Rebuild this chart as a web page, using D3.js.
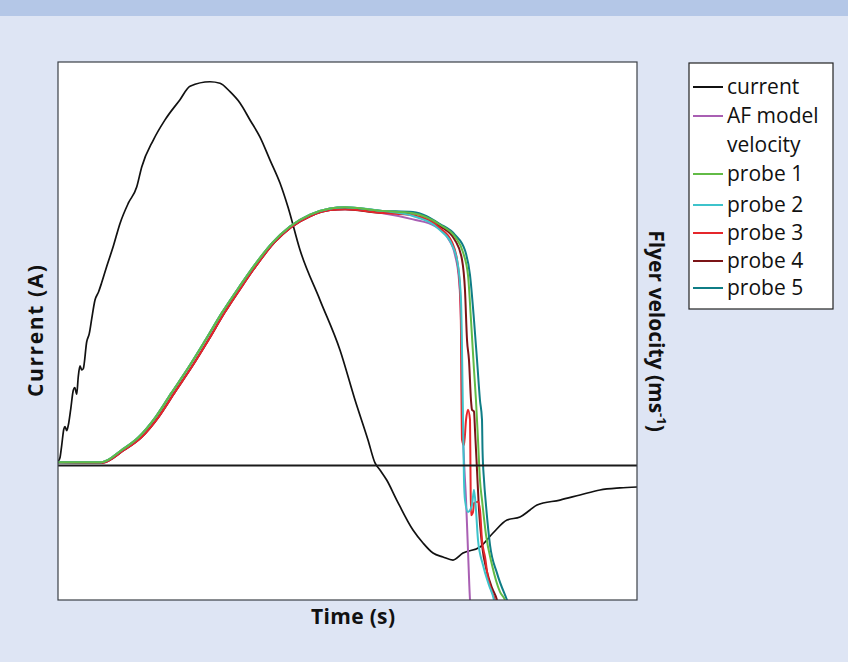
<!DOCTYPE html>
<html><head><meta charset="utf-8">
<script src="https://cdn.jsdelivr.net/npm/d3@7"></script>
<style>
html,body{margin:0;padding:0;background:#dee5f4;}
svg{display:block;}
text{font-family:"Open Sans","Noto Sans",sans-serif;fill:#111;}
</style></head><body>
<svg id="c" width="848" height="662"></svg>
<script>
// ---- data (time in arbitrary units, current in arbitrary units, velocity in m/s-like units) ----
const currentData = [[0,0.03],[0.035,0.06],[0.064,0.15],[0.10,0.27],[0.121,0.29],[0.150,0.26],[0.178,0.30],[0.22,0.42],[0.264,0.56],[0.29,0.58],[0.323,0.53],[0.350,0.66],[0.380,0.74],[0.41,0.71],[0.437,0.72],[0.496,0.92],[0.54,0.98],[0.582,1.09],[0.639,1.23],[0.70,1.29],[0.755,1.36],[0.841,1.48],[0.955,1.63],[1.071,1.80],[1.214,1.95],[1.359,2.07],[1.446,2.22],[1.646,2.42],[1.848,2.57],[2.107,2.72],[2.280,2.82],[2.625,2.853],[2.798,2.842],[2.971,2.779],[3.143,2.695],[3.316,2.569],[3.489,2.442],[3.662,2.271],[3.834,2.100],[3.972,1.922],[4.180,1.602],[4.525,1.230],[4.870,0.859],[5.130,0.487],[5.354,0.190],[5.475,0.019],[5.561,-0.033],[5.677,-0.108],[5.850,-0.257],[6.131,-0.480],[6.304,-0.576],[6.477,-0.651],[6.649,-0.680],[6.822,-0.703],[6.995,-0.651],[7.288,-0.606],[7.513,-0.502],[7.755,-0.405],[7.979,-0.383],[8.152,-0.331],[8.273,-0.294],[8.670,-0.257],[9.016,-0.219],[9.361,-0.182],[9.706,-0.167],[10.0,-0.160]];

const riseEarly = [[0,5],[0.755,5],[1.10,23],[1.39,42],[1.685,72],[1.96,108],[2.255,146],[2.55,187],[2.83,227],[3.125,265],[3.42,301],[3.70,331],[4.0,355],[4.352,373],[4.698,382],[4.957,384],[5.561,379]];
const riseLate = [[0,5],[0.76,4],[1.14,23],[1.44,42],[1.735,72],[2.01,108],[2.305,146],[2.6,187],[2.875,227],[3.165,265],[3.455,301],[3.73,331],[4.02,354],[4.36,371],[4.70,380],[4.957,381],[5.561,376]];

const afModelTail = [[6.131,366],[6.511,356],[6.736,338],[6.857,313],[6.926,276],[6.960,216],[6.978,97],[7.012,8],[7.047,-51],[7.081,-126],[7.116,-200],[7.13,-215]];
const probe1Tail = [[6.131,375],[6.598,358],[6.857,340],[6.995,317],[7.081,283],[7.133,216],[7.185,142],[7.219,97],[7.254,38],[7.288,-22],[7.323,-51],[7.392,-103],[7.496,-148],[7.634,-188],[7.720,-200],[7.76,-210]];
const probe2Tail = [[6.131,371],[6.598,350],[6.805,328],[6.908,298],[6.960,246],[6.978,172],[6.995,68],[7.012,-22],[7.029,-51],[7.081,-69],[7.150,-59],[7.185,-36],[7.219,-66],[7.254,-111],[7.340,-148],[7.444,-178],[7.530,-200],[7.56,-215]];
const probe3Tail = [[6.131,372],[6.598,353],[6.805,332],[6.891,306],[6.943,261],[6.960,201],[6.969,97],[6.978,38],[7.012,30],[7.047,68],[7.081,83],[7.116,68],[7.124,-7],[7.133,-74],[7.168,-69],[7.185,-56],[7.254,-54],[7.288,-66],[7.323,-111],[7.375,-136],[7.427,-167],[7.496,-188],[7.547,-200],[7.57,-210]];
const probe4Tail = [[6.131,375],[6.598,356],[6.857,335],[6.978,306],[7.029,261],[7.064,187],[7.098,157],[7.133,97],[7.150,83],[7.185,80],[7.202,53],[7.237,-7],[7.271,-66],[7.323,-118],[7.409,-158],[7.496,-182],[7.582,-200],[7.61,-210]];
const probe5Tail = [[6.131,377],[6.598,359],[6.857,343],[7.029,320],[7.116,283],[7.185,216],[7.237,157],[7.288,97],[7.323,68],[7.332,23],[7.358,-22],[7.392,-59],[7.461,-118],[7.582,-160],[7.755,-200],[7.80,-210]];

const seriesNames = ["AF model velocity","probe 1","probe 2","probe 3","probe 4","probe 5"];
const seriesColors = ["#a95fb3","#62bb46","#3ec3cb","#e5262b","#7b1417","#0f7d86"];
const seriesRise = [riseLate, riseEarly, riseEarly, riseLate, riseLate, riseEarly];
const seriesTails = [afModelTail, probe1Tail, probe2Tail, probe3Tail, probe4Tail, probe5Tail];
const drawOrder = [0,4,3,5,2,1];
const legendLabels = ["current","AF model","velocity","probe 1","probe 2","probe 3","probe 4","probe 5"];

// ---- layout ----
const svg = d3.select("#c");
const L = 58, R = 637, T = 62, B = 600;

svg.append("rect").attr("x",0).attr("y",0).attr("width",848).attr("height",662).attr("fill","#dee5f4");
svg.append("rect").attr("x",0).attr("y",0).attr("width",848).attr("height",16).attr("fill","#b4c7e7");

const x = d3.scaleLinear().domain([0,10]).range([L,R]);
const yI = d3.scaleLinear().domain([-1,3]).range([B,T]);
const yV = d3.scaleLinear().domain([-200,600]).range([B,T]);

svg.append("rect").attr("x",L).attr("y",T).attr("width",R-L).attr("height",B-T).attr("fill","#ffffff");

svg.append("clipPath").attr("id","clip").append("rect").attr("x",L).attr("y",T).attr("width",R-L).attr("height",B-T);
const g = svg.append("g").attr("clip-path","url(#clip)");

const lineI = d3.line().x(d=>x(d[0])).y(d=>yI(d[1])).curve(d3.curveMonotoneX);
const lineV = d3.line().x(d=>x(d[0])).y(d=>yV(d[1])).curve(d3.curveMonotoneX);

g.append("path").datum(currentData).attr("d",lineI).attr("fill","none").attr("stroke","#111").attr("stroke-width",1.7).attr("stroke-linejoin","round");

drawOrder.forEach(i=>{
  const data = seriesRise[i].concat(seriesTails[i]);
  g.append("path").datum(data).attr("d",lineV).attr("fill","none")
    .attr("stroke",seriesColors[i]).attr("stroke-width",2).attr("stroke-linejoin","round");
});

// zero line
g.append("line").attr("x1",L).attr("x2",R).attr("y1",yI(0)).attr("y2",yI(0)).attr("stroke","#1a1a1a").attr("stroke-width",2.2);

// frame
svg.append("rect").attr("x",L).attr("y",T).attr("width",R-L).attr("height",B-T).attr("fill","none").attr("stroke","#3b4046").attr("stroke-width",1.2);

// axis labels
svg.append("text").attr("transform",`translate(${353},${624})`).attr("text-anchor","middle")
  .attr("font-size",21).attr("font-weight","bold").attr("textLength",84).attr("lengthAdjust","spacing").text("Time (s)");
svg.append("text").attr("transform",`translate(${43},${331}) rotate(-90)`).attr("text-anchor","middle")
  .attr("font-size",21).attr("font-weight","bold").attr("textLength",132).attr("lengthAdjust","spacing").text("Current (A)");
const rt = svg.append("text").attr("transform",`translate(${649},${331}) rotate(90)`).attr("text-anchor","middle")
  .attr("font-size",21).attr("font-weight","bold");
rt.append("tspan").text("Flyer velocity (ms");
rt.append("tspan").attr("font-size",13).attr("dy",-8).text("-1");
rt.append("tspan").attr("dy",8).text(")");

// legend
const lg = svg.append("g");
lg.append("rect").attr("x",689).attr("y",63).attr("width",144).attr("height",246).attr("fill","#fff").attr("stroke","#222").attr("stroke-width",1.2);
const rowY = [87,116,145,174,205,233,261,288];
const legendColors = ["#111","#a95fb3",null,"#62bb46","#3ec3cb","#e5262b","#7b1417","#0f7d86"];
legendLabels.forEach((lab,i)=>{
  if(legendColors[i]) lg.append("line").attr("x1",693).attr("x2",723).attr("y1",rowY[i]).attr("y2",rowY[i]).attr("stroke",legendColors[i]).attr("stroke-width",2);
  lg.append("text").attr("x",727).attr("y",rowY[i]).attr("dy","0.35em").attr("font-size",21).text(lab);
});
</script>
</body></html>
